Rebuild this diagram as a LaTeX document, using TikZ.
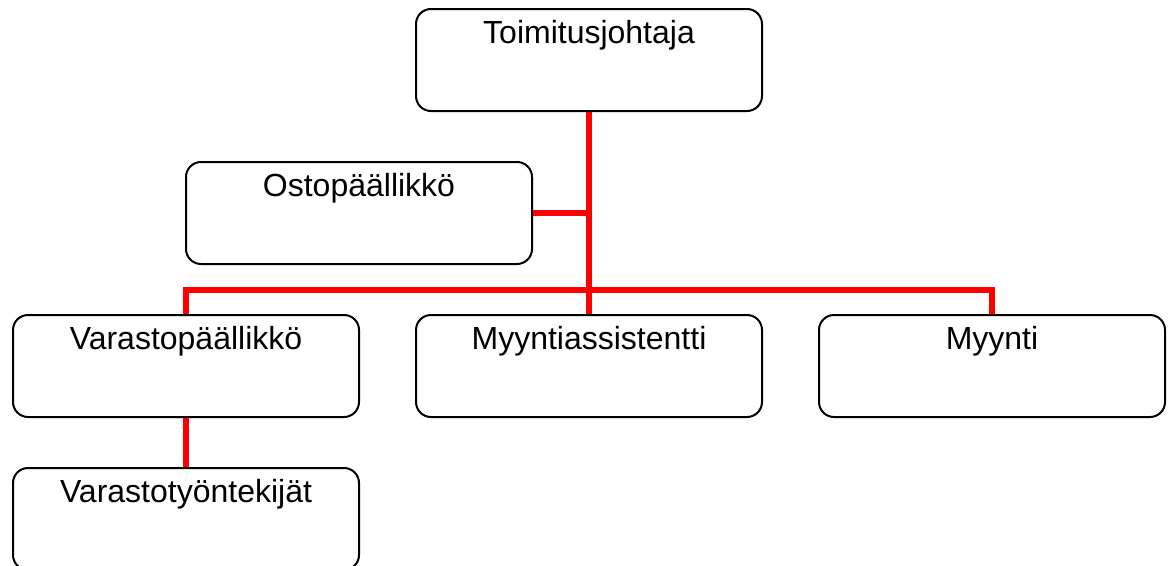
\documentclass[tikz,border=0pt]{standalone}
\usepackage{fontspec}
\setmainfont{Liberation Sans}
\begin{document}
\begin{tikzpicture}[x=1pt,y=-1pt,
  orgbox/.style={draw=black, line width=2pt, rounded corners=15pt, fill=white,
    anchor=north west, minimum width=346pt, inner xsep=0pt, inner ysep=0pt,
    text height=34pt, text depth=68pt,
    font=\fontsize{32}{36}\selectfont},
  link/.style={draw=red, line width=6pt}]
\useasboundingbox (0,0) rectangle (1172,565);
\begin{scope}
\clip (0,0) rectangle (1172,565);
% organisation boxes
\node[orgbox] (ceo)   at (415,8)   {Toimitusjohtaja};
\node[orgbox] (buy)   at (185,161) {Ostopäällikkö};
\node[orgbox] (whm)   at (12,314)  {Varastopäällikkö};
\node[orgbox] (asst)  at (415,314) {Myyntiassistentti};
\node[orgbox] (sales) at (818,314) {Myynti};
\node[orgbox] (whw)   at (12,467)  {Varastotyöntekijät};
% connectors
\coordinate (bar) at (ceo.south |- 0,290);
\draw[link] (ceo.south) -- (asst.north);
\draw[link] (buy.east) -- (buy.east -| ceo.south);
\draw[link] (whm.north) |- (bar) -| (sales.north);
\draw[link] (whm.south) -- (whw.north);
\end{scope}
\end{tikzpicture}
\end{document}
